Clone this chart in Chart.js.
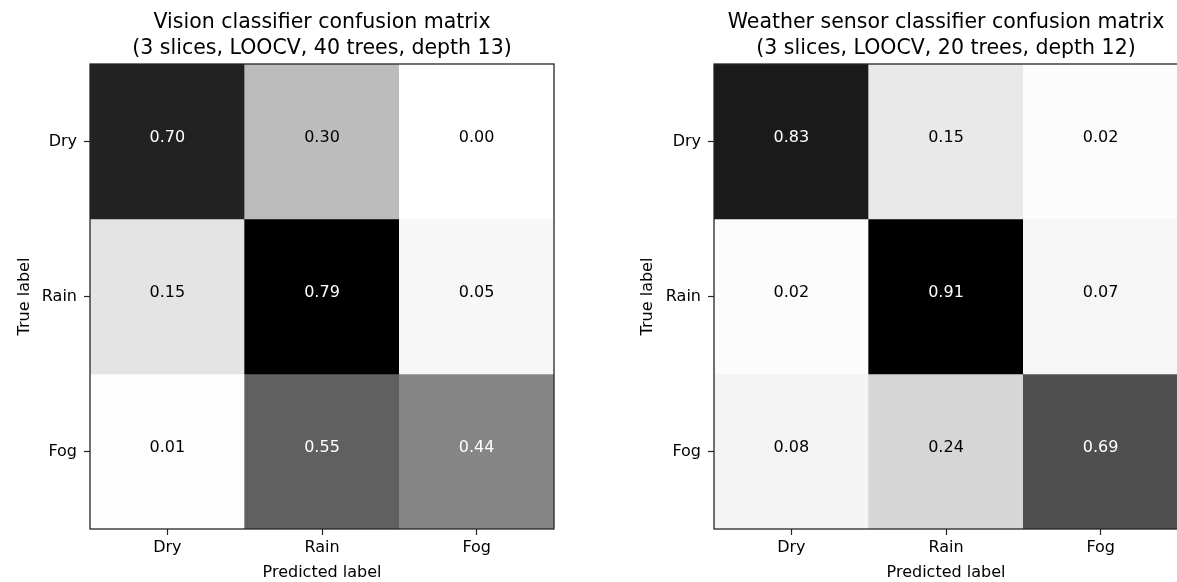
<!DOCTYPE html>
<html>
<head>
<meta charset="utf-8">
<script src="https://cdn.jsdelivr.net/npm/chart.js@4/dist/chart.umd.min.js"></script>
<style>
  html, body { margin: 0; padding: 0; background: #fff; overflow: hidden; width: 1177px; height: 582px; }
  canvas { position: absolute; top: 0; }
</style>
</head>
<body>
<canvas id="vision" width="600" height="582" style="left:0px"></canvas>
<canvas id="weather" width="600" height="582" style="left:600px"></canvas>
<script>
// Class labels shared by both matrices (rows = true label, columns = predicted label)
const classes = ['Dry', 'Rain', 'Fog'];

// Row-normalised confusion matrices
const visionMatrix = [
  [0.70, 0.30, 0.00],
  [0.15, 0.79, 0.05],
  [0.01, 0.55, 0.44]
];
const weatherMatrix = [
  [0.83, 0.15, 0.02],
  [0.02, 0.91, 0.07],
  [0.08, 0.24, 0.69]
];

const visionTitle = ['Vision classifier confusion matrix', '(3 slices, LOOCV, 40 trees, depth 13)'];
const weatherTitle = ['Weather sensor classifier confusion matrix', '(3 slices, LOOCV, 20 trees, depth 12)'];

const xAxisTitle = 'Predicted label';
const yAxisTitle = 'True label';

const FONT = "'DejaVu Sans', 'Liberation Sans', sans-serif";
Chart.defaults.font.family = FONT;
Chart.defaults.font.size = 16;
Chart.defaults.color = '#000';

// Sequential grey ramp (white -> black)
const GREY_STOPS = [255, 240, 217, 189, 150, 115, 82, 37, 0];
function greyColor(t) {
  t = Math.min(1, Math.max(0, t));
  const p = t * (GREY_STOPS.length - 1);
  const i = Math.min(GREY_STOPS.length - 2, Math.floor(p));
  const f = p - i;
  const v = Math.round(GREY_STOPS[i] + (GREY_STOPS[i + 1] - GREY_STOPS[i]) * f);
  return `rgb(${v},${v},${v})`;
}

// Two-line title centred over the plot area
const matrixTitle = {
  id: 'matrixTitle',
  afterDraw(chart, args, opts) {
    const { ctx, chartArea } = chart;
    const cx = (chartArea.left + chartArea.right) / 2;
    ctx.save();
    ctx.font = `20.5px ${FONT}`;
    ctx.fillStyle = '#000';
    ctx.textAlign = 'center';
    ctx.textBaseline = 'alphabetic';
    opts.lines.forEach((line, i) => ctx.fillText(line, cx, opts.baselines[i]));
    ctx.restore();
  }
};

// Value annotations in every cell plus the axes frame
const cellValues = {
  id: 'cellValues',
  afterDatasetsDraw(chart, args, opts) {
    const { ctx, chartArea } = chart;
    const matrix = opts.matrix;
    const vmax = Math.max(...matrix.flat());
    const thresh = vmax / 2;
    ctx.save();
    ctx.font = `16px ${FONT}`;
    ctx.textAlign = 'center';
    ctx.textBaseline = 'alphabetic';
    chart.data.datasets.forEach((ds, r) => {
      const meta = chart.getDatasetMeta(r);
      meta.data.forEach((bar, c) => {
        const v = matrix[r][c];
        const cy = (bar.y + bar.base) / 2;
        ctx.fillStyle = v > thresh ? '#fff' : '#000';
        ctx.fillText(v.toFixed(2), bar.x, cy);
      });
    });
    ctx.strokeStyle = '#262626';
    ctx.lineWidth = 1.3;
    ctx.strokeRect(chartArea.left, chartArea.top, chartArea.right - chartArea.left, chartArea.bottom - chartArea.top);
    ctx.restore();
  }
};

function buildMatrixChart(canvasId, matrix, titleLines, yAxisWidth, rightPad, yTitlePad) {
  const vmax = Math.max(...matrix.flat());
  const datasets = matrix.map((row, r) => ({
    label: classes[r],
    data: row.map(() => [r - 0.5, r + 0.5]),
    backgroundColor: row.map(v => greyColor(v / vmax)),
    borderWidth: 0,
    barPercentage: 1,
    categoryPercentage: 1,
    grouped: false
  }));

  return new Chart(document.getElementById(canvasId), {
    type: 'bar',
    data: { labels: classes, datasets },
    plugins: [matrixTitle, cellValues],
    options: {
      responsive: false,
      animation: false,
      devicePixelRatio: 1,
      layout: { padding: { top: 64, left: 0, right: rightPad, bottom: 0 } },
      plugins: {
        legend: { display: false },
        tooltip: { enabled: false },
        matrixTitle: { lines: titleLines, baselines: [28, 54] },
        cellValues: { matrix }
      },
      scales: {
        x: {
          type: 'category',
          offset: true,
          grid: { display: true, drawOnChartArea: false, drawTicks: true, tickLength: 6, offset: false, tickColor: '#262626', tickWidth: 1.2 },
          border: { display: false },
          ticks: { padding: 3, maxRotation: 0, color: '#000' },
          title: { display: true, text: xAxisTitle, color: '#000', padding: { top: 0, bottom: 0 } },
          afterFit(scale) { scale.height = 53; }
        },
        y: {
          type: 'linear',
          reverse: true,
          min: -0.5,
          max: 2.5,
          afterBuildTicks(scale) { scale.ticks = classes.map((_, i) => ({ value: i })); },
          grid: { display: true, drawOnChartArea: false, drawTicks: true, tickLength: 6, tickColor: '#262626', tickWidth: 1.2 },
          border: { display: false },
          ticks: { padding: 7, color: '#000', callback: (v) => classes[v] },
          title: { display: true, text: yAxisTitle, color: '#000', padding: { top: yTitlePad, bottom: 0 } },
          afterFit(scale) { scale.width = yAxisWidth; }
        }
      }
    }
  });
}

buildMatrixChart('vision', visionMatrix, visionTitle, 90, 46, 15.5);
buildMatrixChart('weather', weatherMatrix, weatherTitle, 114, 22, 38.5);
</script>
</body>
</html>
